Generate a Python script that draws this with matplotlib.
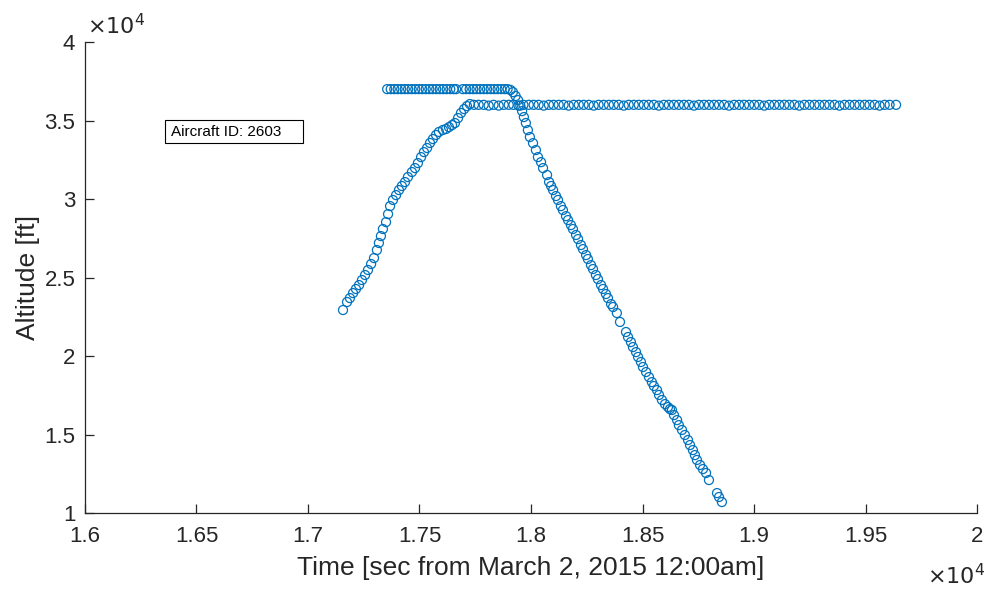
import numpy as np
import matplotlib
matplotlib.use('Agg')
import matplotlib.pyplot as plt
from matplotlib.patches import Rectangle
from matplotlib.ticker import FuncFormatter

# flight 1: climb then cruise at ~36000 ft
climb_t = [17157, 17175, 17188, 17202, 17215, 17229, 17242, 17256, 17269, 17283,
           17296, 17309, 17318, 17327, 17336, 17350, 17359, 17368, 17381, 17395,
           17408, 17421, 17435, 17448, 17466, 17480, 17493, 17507, 17520, 17534,
           17547, 17560, 17574, 17587, 17605, 17619, 17632, 17646, 17659, 17673,
           17686, 17700, 17713, 17726]
climb_alt = [22930, 23440, 23690, 24010, 24270, 24520, 24840, 25160, 25480, 25860,
             26240, 26750, 27200, 27640, 28090, 28530, 29040, 29550, 29940, 30250,
             30570, 30830, 31080, 31400, 31720, 31970, 32290, 32670, 32990, 33250,
             33570, 33820, 34080, 34270, 34400, 34460, 34580, 34710, 34840, 35160,
             35480, 35730, 35920, 36050]

cruise_t = [17744, 17765, 17788, 17810, 17832, 17855, 17878, 17900, 17921, 17944,
            17966, 17990, 18012, 18034, 18057, 18080, 18101, 18124, 18146, 18169,
            18192, 18214, 18236, 18259, 18281, 18303, 18326, 18349, 18371, 18393,
            18416, 18438, 18461, 18483, 18506, 18528, 18551, 18573, 18596, 18618,
            18641, 18663, 18686, 18708, 18731, 18753, 18776, 18798, 18821, 18843,
            18866, 18888, 18911, 18933, 18956, 18978, 19001, 19023, 19046, 19068,
            19091, 19113, 19136, 19158, 19181, 19203, 19226, 19248, 19271, 19293,
            19316, 19338, 19361, 19383, 19406, 19428, 19451, 19473, 19496, 19518,
            19541, 19563, 19586, 19608, 19637]
cruise_alt = [36000, 36000, 36000, 35950, 36000, 35950, 36000, 36000, 36000, 35950,
              36000, 36000, 36000, 36000, 35950, 36000, 36000, 36000, 36000, 35950,
              36000, 36000, 36000, 36000, 35950, 36000, 36000, 36000, 36000, 36000,
              35950, 36000, 36000, 36000, 36000, 36000, 36000, 35950, 36000, 36000,
              36000, 36000, 36000, 36000, 35950, 36000, 36000, 36000, 36000, 36000,
              36000, 35950, 36000, 36000, 36000, 36000, 36000, 36000, 35950, 36000,
              36000, 36000, 36000, 36000, 36000, 35950, 36000, 36000, 36000, 36000,
              36000, 36000, 36000, 35950, 36000, 36000, 36000, 36000, 36000, 36000,
              36000, 35950, 36000, 36000, 36000]

# flight 2: cruise at 37000 ft then descent
level_t = [17355, 17371, 17387, 17402, 17418, 17434, 17449, 17465, 17481, 17497,
           17512, 17528, 17544, 17559, 17575, 17591, 17606, 17622, 17638, 17653,
           17664, 17694, 17709, 17725, 17741, 17756, 17772, 17788, 17803, 17819,
           17835, 17850, 17866, 17882, 17895]
level_alt = [37000] * len(level_t)

desc_t = [17908, 17919, 17931, 17942, 17952, 17960, 17968, 17977, 17986, 17995,
          18009, 18022, 18031, 18045, 18054, 18072, 18081, 18090, 18099, 18112,
          18121, 18134, 18143, 18157, 18166, 18179, 18188, 18202, 18211, 18224,
          18233, 18247, 18255, 18269, 18278, 18291, 18300, 18314, 18323, 18336,
          18345, 18359, 18368, 18385, 18399, 18426, 18435, 18448, 18457, 18471,
          18480, 18493, 18502, 18516, 18529, 18542, 18551, 18565, 18574, 18587,
          18601, 18614, 18623, 18632, 18641, 18655, 18663, 18677, 18690, 18704,
          18713, 18726, 18735, 18744, 18758, 18771, 18785, 18798, 18834, 18843,
          18856]
desc_alt = [36950, 36810, 36560, 36300, 35950, 35600, 35220, 34840, 34390, 33950,
            33560, 33120, 32670, 32350, 31970, 31530, 31080, 30830, 30570, 30190,
            29940, 29550, 29300, 28910, 28660, 28340, 28090, 27710, 27450, 27070,
            26810, 26430, 26180, 25790, 25540, 25160, 24900, 24520, 24270, 23950,
            23690, 23310, 23120, 22740, 22170, 21530, 21210, 20890, 20570, 20250,
            19940, 19620, 19300, 18980, 18660, 18340, 18090, 17830, 17520, 17200,
            16940, 16750, 16620, 16560, 16240, 15920, 15600, 15290, 14970, 14650,
            14330, 14010, 13690, 13380, 13060, 12800, 12550, 12100, 11270, 11020,
            10700]

aircraft_id = 2603

plt.rcParams['font.family'] = ['Liberation Sans', 'DejaVu Sans']
blue = '#0072BD'
dark = '#262626'

fig = plt.figure(figsize=(9.87, 5.92), dpi=100)
ax = fig.add_axes([0.0861, 0.1334, 0.9038, 0.7956])

for t, a in [(climb_t, climb_alt), (cruise_t, cruise_alt),
             (level_t, level_alt), (desc_t, desc_alt)]:
    ax.scatter(t, a, s=42, facecolors='none', edgecolors=blue, linewidths=0.9)

ax.set_xlim(16000, 20000)
ax.set_ylim(10000, 40000)
ax.set_xticks(np.arange(16000, 20001, 500))
ax.set_yticks(np.arange(10000, 40001, 5000))
fmt = FuncFormatter(lambda v, p: '%g' % (v / 1e4))
ax.xaxis.set_major_formatter(fmt)
ax.yaxis.set_major_formatter(fmt)

for side in ['top', 'right']:
    ax.spines[side].set_visible(False)
for side in ['left', 'bottom']:
    ax.spines[side].set_color(dark)
    ax.spines[side].set_linewidth(0.9)
ax.tick_params(direction='in', length=6.5, width=0.9, colors=dark, labelsize=16)
ax.tick_params(axis='x', pad=9)
ax.tick_params(axis='y', pad=7)

ax.set_xlabel('Time [sec from March 2, 2015 12:00am]', fontsize=19, color=dark, labelpad=7)
ax.set_ylabel('Altitude [ft]', fontsize=19, color=dark, labelpad=3)

ax.text(0.002, 1.006, r'$\times10^4$', transform=ax.transAxes, fontsize=16,
        color=dark, ha='left', va='bottom', math_fontfamily='custom')
ax.text(1.009, -0.108, r'$\times10^4$', transform=ax.transAxes, fontsize=16,
        color=dark, ha='right', va='top', math_fontfamily='custom')

# label box
ax.add_patch(Rectangle((0.0897, 0.7856), 0.1547, 0.0488, transform=ax.transAxes,
                       facecolor='white', edgecolor='black', linewidth=0.8, zorder=3))
ax.text(0.0964, 0.81, 'Aircraft ID: %d' % aircraft_id, transform=ax.transAxes,
        fontsize=11, color='black', ha='left', va='center', zorder=4)

fig.savefig('out.png', dpi=100)
